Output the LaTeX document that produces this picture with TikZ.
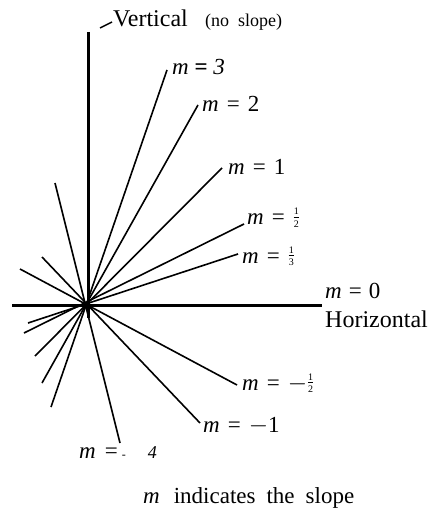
\documentclass[tikz,border=0pt]{standalone}
\usepackage{fontspec}
\setmainfont{Liberation Serif}
\newcommand\smfrac[2]{%
  \makebox[7pt]{\raisebox{10pt}{\fontsize{10}{10}\selectfont #1}}\hspace{-7pt}%
  \makebox[7pt]{\raisebox{7.6pt}{\rule{5.5pt}{0.6pt}}}\hspace{-7pt}%
  \makebox[7pt]{\raisebox{-2.5pt}{\fontsize{10}{10}\selectfont #2}}}
\begin{document}
\begin{tikzpicture}[x=1pt,y=-1pt,
  axisline/.style={line width=3pt},
  ray/.style={line width=1.6pt},
  lbl/.style={inner sep=0pt, anchor=base west, font=\fontsize{23}{27}\selectfont},
  biglbl/.style={inner sep=0pt, anchor=base west, font=\fontsize{24}{28}\selectfont},
  smalllbl/.style={inner sep=0pt, anchor=base west, font=\fontsize{18}{22}\selectfont}]
\useasboundingbox (0,0) rectangle (438,510);
% centre
\coordinate (c) at (87,305);
% axes
\coordinate (vtop) at (88,32);
\coordinate (vbot) at (88,318);
\coordinate (hl) at (12,305);
\coordinate (hr) at (322,305);
\draw[axisline] (vtop) -- (vbot);
\draw[axisline] (hl) -- (hr);
% rays: upper/right ends and lower/left ends
\coordinate (m3a) at (167,70);   \coordinate (m3b) at (51,407);
\coordinate (m2a) at (198,105);  \coordinate (m2b) at (42,383);
\coordinate (m1a) at (222,168);  \coordinate (m1b) at (35,356);
\coordinate (mha) at (244,224);  \coordinate (mhb) at (24,333);
\coordinate (mta) at (238,254);  \coordinate (mtb) at (28,323);
\coordinate (mnha) at (20,269);  \coordinate (mnhb) at (237,385);
\coordinate (mn1a) at (42,257);  \coordinate (mn1b) at (200,423);
\coordinate (mn4a) at (55,183);  \coordinate (mn4b) at (120,443);
\foreach \r in {m3,m2,m1,mh,mt,mnh,mn1,mn4}
  \draw[ray] (\r a) -- (\r b);
% leader tick for Vertical
\coordinate (vt1) at (100,28);
\coordinate (vt2) at (112,22);
\draw[line width=1.4pt] (vt1) -- (vt2);
% labels
\node[biglbl] (lv) at (113,27) {Vertical};
\node[smalllbl] (lns) at (205,27) {(no\hspace{9pt}slope)};
\node[lbl] (l3) at (172,75) {\textit{m} \textbf{=} \textit{3}};
\node[lbl] (l2) at (202,112) {\textit{m}\hspace{8pt}=\hspace{8pt}2};
\node[lbl] (l1) at (228,175) {\textit{m}\hspace{8pt}=\hspace{8pt}1};
\node[lbl] (lh) at (247,225) {\textit{m}\hspace{8pt}=\hspace{8pt}\smfrac12};
\node[lbl] (lt) at (242,263) {\textit{m}\hspace{8pt}=\hspace{8pt}\smfrac13};
\node[lbl] (l0) at (325,298) {\textit{m}\hspace{7pt}=\hspace{7pt}0};
\node[biglbl] (lhz) at (325,327) {Horizontal};
\node[lbl] (lnh) at (242,390) {\textit{m}\hspace{8pt}=\hspace{8pt}$-$\smfrac12};
\node[lbl] (ln1) at (203,432) {\textit{m}\hspace{8pt}=\hspace{8pt}$-$1};
\node[lbl] (ln4) at (79,458) {\textit{m}\hspace{9pt}=\hspace{4pt}{\fontsize{12}{12}\selectfont -}\hspace{22pt}{\fontsize{18}{20}\selectfont\textit{4}}};
\node[lbl] (lcap) at (143,503) {\textit{m}\hspace{14pt}indicates\hspace{11pt}the\hspace{11pt}slope};
\end{tikzpicture}
\end{document}
